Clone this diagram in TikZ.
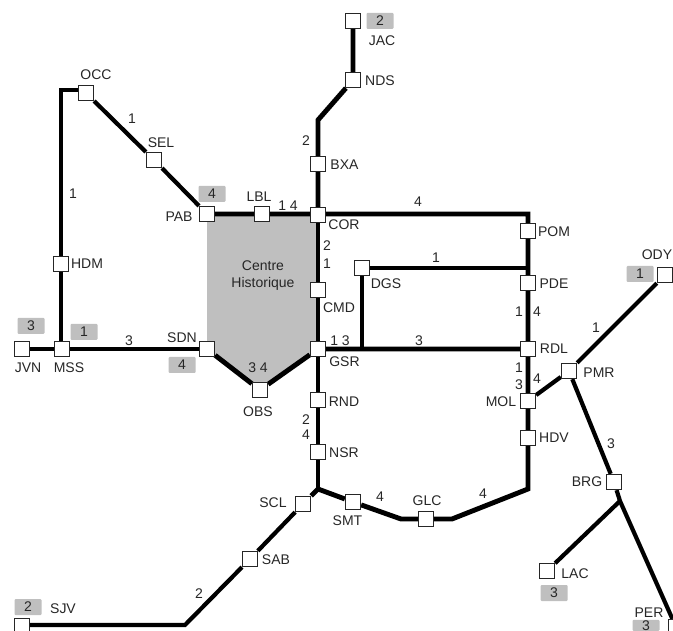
\documentclass[tikz,border=0pt]{standalone}
\usepackage{fontspec}
\setmainfont{Liberation Sans}
\colorlet{zone colour}{black!25}
\colorlet{text colour}{black!85}
\tikzset{
    % One unit of the picture is one pixel of the map
    every node/.style={align=center, inner sep=0, text=text colour,
        font=\fontsize{14}{17}\selectfont},
    % Stations and the tags with their zone
    station/.style={draw=black!85, fill=white, line width=1.3pt,
        rectangle, minimum size=15pt},
    zonetag/.style={fill=zone colour, rounded corners=1pt,
        minimum width=27pt, minimum height=16pt},
    % Lines of the network
    track/.style={draw=black, line width=4.9pt},
    thin track/.style={draw=black, line width=4.2pt},
}
\pgfdeclarelayer{background}
\pgfsetlayers{background,main}
\begin{document}
\begin{tikzpicture}[x=1pt, y=-1pt]

\clip [use as bounding box] (0,0) rectangle (673,631);

% Stations
\path
    (353,21) node (jac) [station] {}
    (353,80) node (nds) [station] {}
    (318,164) node (bxa) [station] {}
    (86,93) node (occ) [station] {}
    (154,160) node (sel) [station] {}
    (207,214) node (pab) [station] {}
    (262,214) node (lbl) [station] {}
    (318,215) node (cor) [station] {}
    (61,264) node (hdm) [station] {}
    (318,290) node (cmd) [station] {}
    (528,231) node (pom) [station] {}
    (362,268) node (dgs) [station] {}
    (528,283) node (pde) [station] {}
    (665,275) node (ody) [station] {}
    (22,349) node (jvn) [station] {}
    (62,349) node (mss) [station] {}
    (207,349) node (sdn) [station] {}
    (318,349) node (gsr) [station] {}
    (528,349) node (rdl) [station] {}
    (569,371) node (pmr) [station] {}
    (260,390) node (obs) [station] {}
    (318,400) node (rnd) [station] {}
    (528,401) node (mol) [station] {}
    (528,438) node (hdv) [station] {}
    (318,452) node (nsr) [station] {}
    (614,482) node (brg) [station] {}
    (303,504) node (scl) [station] {}
    (353,502) node (smt) [station] {}
    (426,519) node (glc) [station] {}
    (250,559) node (sab) [station] {}
    (547,571) node (lac) [station] {}
    (22,626) node (sjv) [station] {}
    (676,627) node (per) [station] {};

% Bends and forks of the lines
\coordinate (bend-occ) at (61,90);
\coordinate (bend-nds) at (318,120);
\coordinate (bend-pom) at (528,214);
\coordinate (fork-dgs) at (362,349);
\coordinate (fork-pde) at (528,268);
\coordinate (fork-nsr) at (318,489);
\coordinate (bend-smt) at (401,519);
\coordinate (bend-glc) at (452,519);
\coordinate (bend-hdv) at (528,489);
\coordinate (fork-brg) at (620,501);
\coordinate (bend-sjv) at (185,625);

\begin{pgfonlayer}{background}
    \fill [zone colour] (pab.center) -- (lbl.center -| cor.center) -- (gsr.center)
        -- (obs.center) -- (sdn.center) -- cycle;
    \draw [track] (jac) -- (nds) -- (bend-nds) -- (bxa) -- (cor);
    \draw [track] (cor) -- (cmd) -- (gsr) -- (rnd) -- (nsr) -- (fork-nsr);
    \draw [track] (occ.west |- bend-occ) -- (bend-occ) -- (hdm) -- (hdm |- mss);
    \draw [thin track] (occ) -- (sel) -- (pab);
    \draw [track] (pab) -- (lbl) -- (bend-pom) -- (pom) -- (pde)
        -- (rdl) -- (mol) -- (hdv) -- (bend-hdv) -- (bend-glc) -- (glc)
        -- (bend-smt) -- (smt) -- (fork-nsr) -- (scl);
    \draw [thin track] (scl) -- (sab) -- (bend-sjv) -- (sjv.east |- bend-sjv);
    \draw [track] (jvn) -- (mss) -- (sdn);
    \draw [track] (sdn) -- (obs) -- (gsr) -- (rdl);
    \draw [track] (dgs) -- (fork-pde);
    \draw [track] (dgs) -- (fork-dgs);
    \draw [thin track] (mol) -- (pmr) -- (ody);
    \draw [thin track] (pmr) -- (brg) -- (fork-brg) -- (per);
    \draw [thin track] (fork-brg) -- (lac);
\end{pgfonlayer}

% Station names
\path
    (382,41) node (jac-name) {JAC}
    (380,81) node (nds-name) {NDS}
    (344.5,165) node (bxa-name) {BXA}
    (96,75) node (occ-name) {OCC}
    (161,143) node (sel-name) {SEL}
    (179,217) node (pab-name) {PAB}
    (259,197) node (lbl-name) {LBL}
    (344,225) node (cor-name) {COR}
    (87,264) node (hdm-name) {HDM}
    (339,308) node (cmd-name) {CMD}
    (554,232) node (pom-name) {POM}
    (386,284) node (dgs-name) {DGS}
    (554,284) node (pde-name) {PDE}
    (657,255) node (ody-name) {ODY}
    (28,368) node (jvn-name) {JVN}
    (69,368) node (mss-name) {MSS}
    (182,338) node (sdn-name) {SDN}
    (344.5,362) node (gsr-name) {GSR}
    (554,349) node (rdl-name) {RDL}
    (599,373) node (pmr-name) {PMR}
    (258,412) node (obs-name) {OBS}
    (344,402) node (rnd-name) {RND}
    (501,402) node (mol-name) {MOL}
    (554,438) node (hdv-name) {HDV}
    (344,453) node (nsr-name) {NSR}
    (587,482) node (brg-name) {BRG}
    (273,503) node (scl-name) {SCL}
    (347.5,521) node (smt-name) {SMT}
    (427,501) node (glc-name) {GLC}
    (276,560) node (sab-name) {SAB}
    (575,574) node (lac-name) {LAC}
    (63,609) node (sjv-name) {SJV}
    (649,613) node (per-name) {PER};

% Zones
\path
    (380,21) node (jac-tag) [zonetag] {2}
    (640,274) node (ody-tag) [zonetag] {1}
    (212,194) node (pab-tag) [zonetag] {4}
    (31,326) node (jvn-tag) [zonetag] {3}
    (84,332) node (mss-tag) [zonetag] {1}
    (182,365) node (sdn-tag) [zonetag] {4}
    (554,593) node (lac-tag) [zonetag] {3}
    (646,625.4) node (per-tag) [zonetag, minimum height=11pt] {3}
    (28,607) node (sjv-tag) [zonetag] {2};

% Line numbers
\path
    (132,119) node (num-sel) {1}
    (73,194) node (num-hdm) {1}
    (306,141) node (num-bxa) {2}
    (288,206) node (num-lbl) {1 4}
    (327,246) node (num-cor-a) {2}
    (327,264) node (num-cor-b) {1}
    (418,202) node (num-pom) {4}
    (436,258) node (num-dgs) {1}
    (519,312) node (num-pde-a) {1}
    (537,312) node (num-pde-b) {4}
    (340,341) node (num-gsr) {1 3}
    (129,341) node (num-sdn) {3}
    (419,341) node (num-rdl) {3}
    (596,328) node (num-pmr) {1}
    (519,368) node (num-mol-a) {1}
    (537,379) node (num-mol-b) {4}
    (519,385) node (num-mol-c) {3}
    (611,444) node (num-brg) {3}
    (258,368) node (num-obs) {3 4}
    (306,420) node (num-nsr-a) {2}
    (306,435) node (num-nsr-b) {4}
    (380,497) node (num-smt) {4}
    (483,494) node (num-glc) {4}
    (199,594) node (num-sab) {2};

\node (centre) at (263,275.5) {Centre\\Historique};

\end{tikzpicture}
\end{document}
